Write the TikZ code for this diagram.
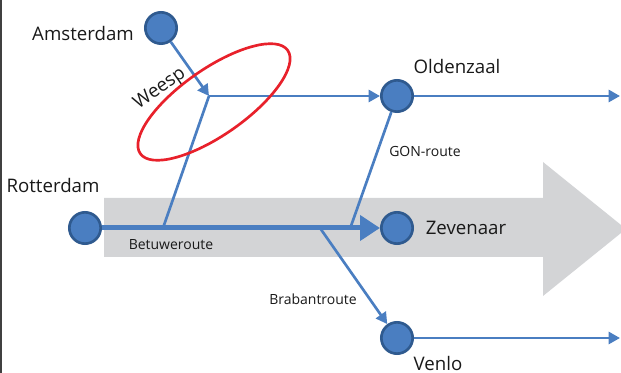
\documentclass[tikz,border=0pt]{standalone}
\usepackage{fontspec}
\setmainfont{Open Sans}
\usepackage{tikz}
\usetikzlibrary{arrows.meta}
\definecolor{lijnblauw}{HTML}{4A7EC1}
\definecolor{stationblauw}{HTML}{4A7EC1}
\definecolor{randblauw}{HTML}{2F5A8F}
\definecolor{pijlgrijs}{HTML}{D3D4D6}
\definecolor{ovaalrood}{HTML}{E8212B}

\begin{document}
\begin{tikzpicture}[x=0.75pt,y=-0.75pt,>={Triangle[length=8.5pt,width=9pt]},
		station/.style = {draw=randblauw,fill=stationblauw,circle,line width=2pt,minimum size=23.5pt,inner sep=0pt},
		route/.style = {draw=lijnblauw,line width=2pt},
		betuwe/.style = {draw=lijnblauw,line width=3.75pt,-{Triangle[length=15pt,width=18.5pt]}},
		big/.style = {font=\fontsize{14}{16}\selectfont,text=black!90,inner sep=0pt},
		small/.style = {font=\fontsize{10.5}{12}\selectfont,text=black!90,inner sep=0pt}
		]
		\useasboundingbox (0,0) rectangle (621,373);
		\clip (0,0) rectangle (621,373);
		%RAND
		\draw[black!75,line width=1.2pt] (0.8,0) -- (0.8,373);
		%GRIJZE PIJL
		\fill[pijlgrijs] (104,198) -- (543,198) -- (543,162) -- (626,229) -- (543,296) -- (543,257) -- (104,257) -- cycle;
		%STATIONS
		\node[station] (ams) at (161,28) {};
		\node[station] (old) at (397,96) {};
		\node[station] (rot) at (85,228) {};
		\node[station] (zev) at (397,228) {};
		\node[station] (ven) at (397,338) {};
		%PUNTEN OP DE ROUTES
		\coordinate (weesp) at (209,96);
		\coordinate (betsplit) at (163,228);
		\coordinate (brabsplit) at (320,228);
		\coordinate (gonend) at (351,226);
		\coordinate (oldend) at (620,96);
		\coordinate (venend) at (620,338);
		%NAMEN
		\node[big,anchor=base] (amslbl) at (83,41) {Amsterdam};
		\node[big,anchor=base] (oldlbl) at (457,74) {Oldenzaal};
		\node[big,anchor=base] (rotlbl) at (53,193) {Rotterdam};
		\node[big,anchor=base] (zevlbl) at (466,235) {Zevenaar};
		\node[big,anchor=base] (venlbl) at (438,371) {Venlo};
		\node[big,rotate=35] (weesplbl) at (160,89) {Weesp};
		\node[small,anchor=base] (betlbl) at (171,250) {Betuweroute};
		\node[small,anchor=base] (gonlbl) at (425,157) {GON-route};
		\node[small,anchor=base] (brablbl) at (313,305) {Brabantroute};
		%ROUTES
		\draw[route,->] (ams) -- (weesp);
		\draw[route,->] (weesp) -- (old);
		\draw[route] (weesp) -- (betsplit);
		\draw[route] (old) -- (gonend);
		\draw[route,->] (brabsplit) -- (ven);
		\draw[route,->] (old) -- (oldend);
		\draw[route,->] (ven) -- (venend);
		\draw[betuwe] (rot) -- (zev);
		%OVAAL
		\draw[ovaalrood,line width=2pt,rotate around={35:(214,102)}] (214,102) ellipse [x radius=90,y radius=33];
\end{tikzpicture}
\end{document}
